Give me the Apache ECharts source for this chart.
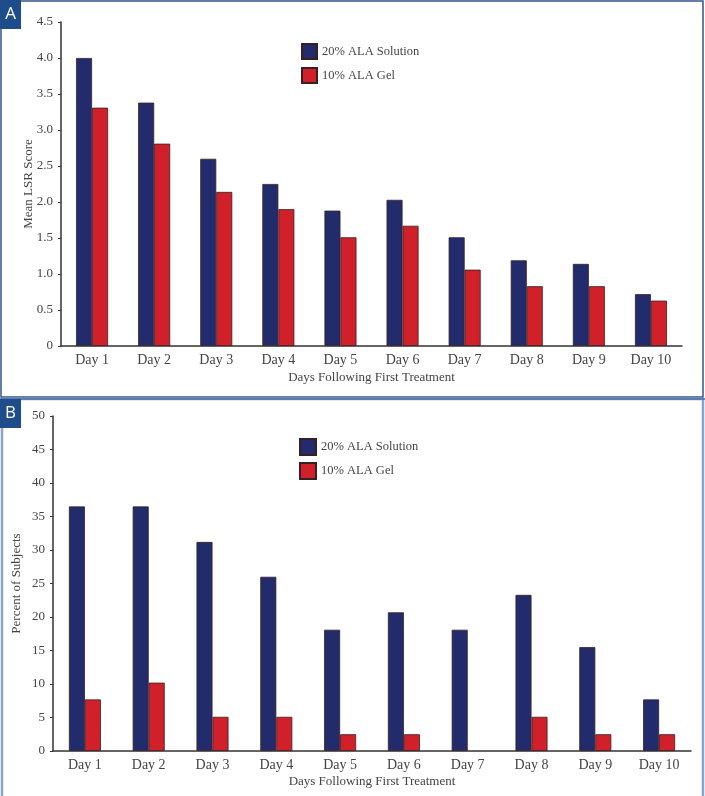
<!DOCTYPE html>
<html>
<head>
<meta charset="utf-8">
<script src="https://cdn.jsdelivr.net/npm/echarts@6/dist/echarts.min.js"></script>
<style>
  html, body { margin: 0; padding: 0; background: #fff; }
  #chart { width: 705px; height: 796px; }
</style>
</head>
<body>
<div id="chart"></div>
<script>
// categories
var days = ['Day 1', 'Day 2', 'Day 3', 'Day 4', 'Day 5', 'Day 6', 'Day 7', 'Day 8', 'Day 9', 'Day 10'];
var seriesNames = ['20% ALA Solution', '10% ALA Gel'];

// panel A: mean LSR score
var lsrSolution = [4.0, 3.38, 2.6, 2.25, 1.88, 2.03, 1.51, 1.19, 1.14, 0.72];
var lsrGel = [3.31, 2.81, 2.14, 1.9, 1.51, 1.67, 1.06, 0.83, 0.83, 0.63];

// panel B: percent of subjects
var pctSolution = [36.5, 36.5, 31.2, 26.0, 18.1, 20.7, 18.1, 23.3, 15.5, 7.7];
var pctGel = [7.7, 10.2, 5.1, 5.1, 2.5, 2.5, 0, 5.1, 2.5, 2.5];

var navy = '#222c6c';
var red = '#d0202a';
var serif = '"Liberation Serif", "DejaVu Serif", serif';
var textCol = '#444';

function xAx(gridIndex, gap) {
  return {
    type: 'category',
    gridIndex: gridIndex,
    data: days,
    name: 'Days Following First Treatment',
    nameLocation: 'middle',
    nameGap: gap,
    nameMoveOverlap: false,
    nameTextStyle: { fontFamily: serif, fontSize: 13, color: textCol },
    axisLine: { lineStyle: { color: '#333', width: 1.5 } },
    axisTick: { show: false },
    axisLabel: { fontFamily: serif, fontSize: 14, color: textCol, margin: 7, interval: 0 },
    splitLine: { show: false }
  };
}

function yAx(gridIndex, name, max, interval, gap, fmt) {
  return {
    type: 'value',
    gridIndex: gridIndex,
    min: 0,
    max: max,
    interval: interval,
    name: name,
    nameLocation: 'middle',
    nameGap: gap,
    nameMoveOverlap: false,
    nameTextStyle: { fontFamily: serif, fontSize: 13, color: textCol },
    axisLine: { show: true, lineStyle: { color: '#333', width: 1.5 } },
    axisTick: { show: true, length: 3, lineStyle: { color: '#333' } },
    axisLabel: { fontFamily: serif, fontSize: 13, color: textCol, margin: 8, formatter: fmt },
    splitLine: { show: false }
  };
}

function bar(name, data, color, idx) {
  return {
    name: name,
    type: 'bar',
    xAxisIndex: idx,
    yAxisIndex: idx,
    // a zero value draws no bar in the source figure
    data: data.map(function (v) { return v === 0 ? null : v; }),
    barWidth: 16,
    barGap: '0%',
    itemStyle: { color: color, borderColor: '#3a1f22', borderWidth: 0.8 }
  };
}

var legendText = { fontFamily: serif, fontSize: 12.5, color: textCol };

var chart = echarts.init(document.getElementById('chart'));
chart.setOption({
  animation: false,
  color: [navy, red],
  grid: [
    { left: 61, right: 23, top: 22, bottom: 450 },
    { left: 53, right: 14, top: 416, bottom: 45 }
  ],
  legend: [
    {
      data: seriesNames, orient: 'vertical', left: 301, top: 43, icon: 'rect', padding: 0,
      itemWidth: 15, itemHeight: 15, itemGap: 7,
      textStyle: legendText
    },
    {
      data: seriesNames, orient: 'vertical', left: 299, top: 438, icon: 'rect', padding: 0,
      itemWidth: 16, itemHeight: 16, itemGap: 6,
      textStyle: legendText
    }
  ],
  xAxis: [xAx(0, 25), xAx(1, 24)],
  yAxis: [
    yAx(0, 'Mean LSR Score', 4.5, 0.5, 26, function (v) { return v === 0 ? '0' : v.toFixed(1); }),
    yAx(1, 'Percent of Subjects', 50, 5, 30, null)
  ],
  series: [
    bar(seriesNames[0], lsrSolution, navy, 0),
    bar(seriesNames[1], lsrGel, red, 0),
    bar(seriesNames[0], pctSolution, navy, 1),
    bar(seriesNames[1], pctGel, red, 1)
  ],
  graphic: [
    { type: 'rect', shape: { x: 1, y: 1, width: 702, height: 396 }, style: { fill: 'none', stroke: '#34548a', lineWidth: 1.5 }, silent: true },
    { type: 'rect', shape: { x: 2, y: 399, width: 701, height: 400 }, style: { fill: 'none', stroke: '#8ba3cc', lineWidth: 2.5 }, silent: true },
    { type: 'line', shape: { x1: 0, y1: 399, x2: 705, y2: 399 }, style: { stroke: '#4a6ea6', lineWidth: 1.5 }, silent: true },
    { type: 'rect', shape: { x: 0, y: 0, width: 21, height: 29 }, style: { fill: '#1f4c8a' }, silent: true },
    { type: 'text', x: 10.5, y: 14.5, style: { text: 'A', fill: '#fff', font: '17px "Open Sans", sans-serif', align: 'center', verticalAlign: 'middle' }, silent: true },
    { type: 'rect', shape: { x: 0, y: 399, width: 21, height: 29 }, style: { fill: '#1f4c8a' }, silent: true },
    { type: 'text', x: 10.5, y: 413.5, style: { text: 'B', fill: '#fff', font: '17px "Open Sans", sans-serif', align: 'center', verticalAlign: 'middle' }, silent: true }
  ]
});
</script>
</body>
</html>
